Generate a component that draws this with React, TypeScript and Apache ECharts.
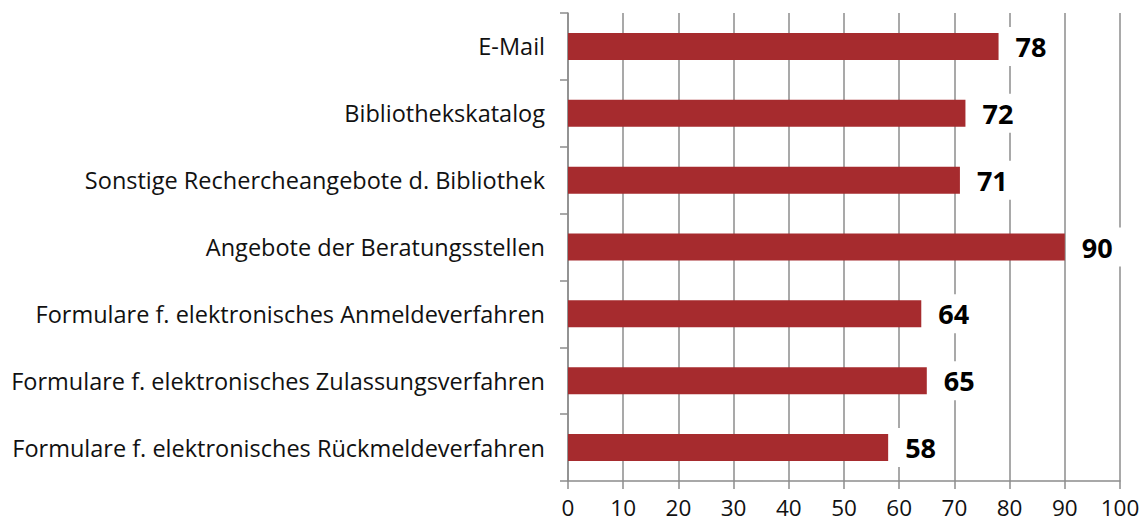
import React, { useEffect, useRef } from "react";
import * as echarts from "echarts";

const categories = [
  "E-Mail",
  "Bibliothekskatalog",
  "Sonstige Rechercheangebote d. Bibliothek",
  "Angebote der Beratungsstellen",
  "Formulare f. elektronisches Anmeldeverfahren",
  "Formulare f. elektronisches Zulassungsverfahren",
  "Formulare f. elektronisches Rückmeldeverfahren",
];
const values = [78, 72, 71, 90, 64, 65, 58];
const xTicks = [0, 10, 20, 30, 40, 50, 60, 70, 80, 90, 100];

const FONT = "'Open Sans', 'Noto Sans', sans-serif";
const GRAY = "#8c8c8c";

export default function App() {
  const ref = useRef<HTMLDivElement>(null);
  useEffect(() => {
    if (!ref.current) return;
    const chart = echarts.init(ref.current, null, { renderer: "svg" });
    chart.setOption({
      animation: false,
      grid: { left: 568, right: 26, top: 13, bottom: 44, containLabel: false },
      xAxis: {
        type: "value",
        min: xTicks[0],
        max: xTicks[xTicks.length - 1],
        interval: 10,
        axisLine: { show: true, lineStyle: { color: GRAY, width: 1.5 } },
        axisTick: { show: true, length: 8, lineStyle: { color: GRAY, width: 1.5 } },
        splitLine: { show: true, lineStyle: { color: GRAY, width: 1.5 } },
        axisLabel: { color: "#111", fontSize: 22.5, lineHeight: 22, fontFamily: FONT, margin: 15 },
      },
      yAxis: {
        type: "category",
        data: categories,
        inverse: true,
        axisLine: { show: true, lineStyle: { color: GRAY, width: 1.5 } },
        axisTick: { show: true, length: 8, alignWithLabel: false, lineStyle: { color: GRAY, width: 1.5 } },
        splitLine: { show: false },
        axisLabel: { color: "#111", fontSize: 23.5, fontFamily: FONT, margin: 23 },
      },
      series: [
        {
          type: "bar",
          data: values,
          barWidth: 27,
          itemStyle: { color: "#A62B2E" },
          label: {
            show: true,
            position: "right",
            distance: 7,
            color: "#000",
            fontSize: 27,
            fontWeight: "bold",
            fontFamily: FONT,
            backgroundColor: "#fff",
            padding: [6, 10, 6, 10],
          },
        },
      ],
    });
    return () => chart.dispose();
  }, []);
  return <div ref={ref} style={{ width: 1146, height: 525, position: "absolute", left: 0, top: 0 }} />;
}
